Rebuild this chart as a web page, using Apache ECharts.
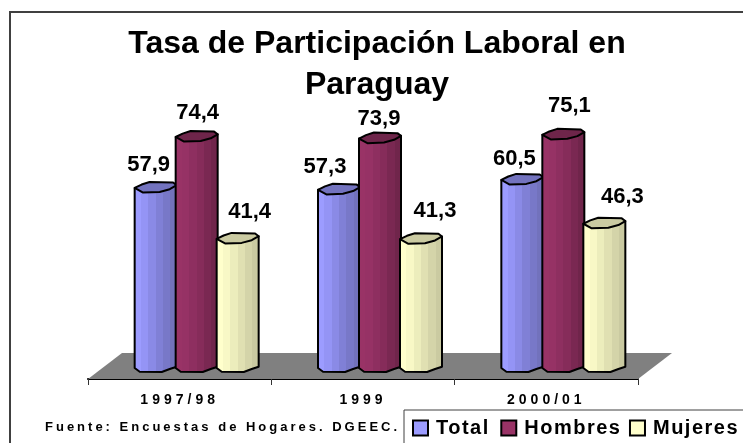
<!DOCTYPE html>
<html>
<head>
<meta charset="utf-8">
<style>
  html, body { margin: 0; padding: 0; background: #fff; overflow: hidden; }
  #chart { width: 743px; height: 443px; }
</style>
<script src="https://cdn.jsdelivr.net/npm/echarts@6/dist/echarts.min.js"></script>
</head>
<body>
<div id="chart"></div>
<script>
var categories = ['1997/98', '1999', '2000/01'];
var total = [57.9, 57.3, 60.5];
var hombres = [74.4, 73.9, 75.1];
var mujeres = [41.4, 41.3, 46.3];

var fontName = '"Liberation Sans", Arial, sans-serif';

// the original has wide tracking on the small text, echarts has no option for it
var tracking = { '14px': 4, '13px': 3, '20px': 1.5 };
var baseFillText = CanvasRenderingContext2D.prototype.fillText;
CanvasRenderingContext2D.prototype.fillText = function (text, x, y, maxWidth) {
  var m = this.font.match(/(\d+)px/);
  this.letterSpacing = (m && tracking[m[0]] ? tracking[m[0]] : 0) + 'px';
  if (maxWidth === undefined) baseFillText.call(this, text, x, y);
  else baseFillText.call(this, text, x, y, maxWidth);
};

// 3D floor depth
var depthX = 34;
var depthY = 26;
var barRx = 21;
var barGap = 41;

// uneven low-res outline of the cylinder ends: [fraction of rx, px]
var topOutline = [[-1, 0.7], [-0.67, -2.7], [-0.29, -5.3], [0.83, -4.7], [1, -2], [0.67, 2], [0.19, 4.7], [-0.6, 5.3]];
var bottomOutline = [[1, 0.7], [0.67, 3], [0.29, 6], [-0.76, 5.7], [-1, 2]];

// label nudges from the bar centre, per series and category
var labelNudge = {
  Total: [[-7, -22], [-14, -22], [-8, -20]],
  Hombres: [[1, -23], [-1, -19], [6, -28]],
  Mujeres: [[12, -26], [14, -28], [18, -26]]
};

var colors = {
  Total: { stops: ['#9c9cff', '#9494f5', '#8a8ae6', '#8080d6', '#7878c8', '#7272bc'], top: '#7373bf' },
  Hombres: { stops: ['#993366', '#963265', '#8e2f60', '#862c5a', '#7a2852', '#70254b'], top: '#6e254a' },
  Mujeres: { stops: ['#ffffcc', '#f8f8c6', '#ecedbc', '#e0e0b2', '#d4d4a9', '#cacaa1'], top: '#cbcba2' }
};

function stripes(stops) {
  var out = [];
  stops.forEach(function (c, i) {
    out.push({ offset: i / stops.length, color: c });
    out.push({ offset: (i + 1) / stops.length, color: c });
  });
  return out;
}

function barSeries(name, values, slot) {
  return {
    name: name,
    type: 'custom',
    data: values,
    itemStyle: { color: colors[name].stops[0], borderColor: '#000', borderWidth: 2 },
    renderItem: function (params, api) {
      var idx = params.dataIndex;
      var value = api.value(1);
      var topPt = api.coord([idx, value]);
      var basePt = api.coord([idx, 0]);
      var cx = topPt[0] + depthX / 2 + slot * barGap;
      var topY = topPt[1] - depthY / 2;
      var baseY = basePt[1] - depthY / 2;
      var nudge = labelNudge[name][idx];

      var body = [[cx - barRx, topY + 0.7], [cx + barRx, topY - 2]];
      bottomOutline.forEach(function (p) {
        body.push([cx + p[0] * barRx, baseY + p[1]]);
      });
      var lid = topOutline.map(function (p) {
        return [cx + p[0] * barRx, topY + p[1]];
      });

      return {
        type: 'group',
        children: [
          {
            type: 'polygon',
            shape: { points: body },
            style: {
              fill: new echarts.graphic.LinearGradient(0, 0, 1, 0, stripes(colors[name].stops)),
              stroke: '#000',
              lineWidth: 2,
              lineJoin: 'round'
            }
          },
          {
            type: 'polygon',
            shape: { points: lid },
            style: { fill: colors[name].top, stroke: '#000', lineWidth: 2, lineJoin: 'round' }
          },
          {
            type: 'text',
            x: cx + nudge[0],
            y: topY + nudge[1],
            style: {
              text: String(value.toFixed(1)).replace('.', ','),
              font: 'bold 22px ' + fontName,
              fill: '#000',
              align: 'center',
              verticalAlign: 'middle'
            }
          }
        ]
      };
    },
    encode: { x: 0, y: 1 },
    z: 3 + slot
  };
}

var chart = echarts.init(document.getElementById('chart'));
chart.setOption({
  animation: false,
  backgroundColor: '#fff',
  textStyle: { fontFamily: fontName },
  title: [{
    text: 'Tasa de Participación Laboral en\nParaguay',
    left: 372,
    top: 19,
    textAlign: 'center',
    textStyle: { fontFamily: fontName, fontSize: 32, fontWeight: 'bold', color: '#000', lineHeight: 41 }
  }, {
    text: 'Fuente: Encuestas de Hogares. DGEEC.',
    left: 45,
    top: 421,
    padding: 0,
    textStyle: { fontFamily: fontName, fontSize: 13, fontWeight: 'bold', color: '#000' }
  }],
  grid: { left: 88, right: 105, top: 132, bottom: 64 },
  xAxis: {
    type: 'category',
    data: categories,
    axisLine: { show: true, lineStyle: { color: '#000', width: 2 } },
    axisTick: { show: true, length: 6, lineStyle: { color: '#333', width: 1 } },
    axisLabel: { fontFamily: fontName, fontSize: 14, fontWeight: 'bold', color: '#000', margin: 14 }
  },
  yAxis: { type: 'value', min: 0, max: 80, show: false },
  legend: {
    left: 412,
    top: 418,
    padding: 0,
    itemWidth: 15,
    itemHeight: 15,
    itemGap: 18,
    icon: 'rect',
    textStyle: { fontFamily: fontName, fontSize: 20, fontWeight: 'bold', color: '#000', padding: [0, 0, 0, 3] },
    data: ['Total', 'Hombres', 'Mujeres']
  },
  graphic: [
    { type: 'polyline', silent: true, shape: { points: [[10, 443], [10, 12], [743, 12]] }, style: { fill: null, stroke: '#404040', lineWidth: 2 } },
    { type: 'polyline', silent: true, shape: { points: [[404, 443], [404, 410], [743, 410]] }, style: { fill: null, stroke: '#404040', lineWidth: 1 } }
  ],
  series: [
    {
      name: 'floor',
      type: 'custom',
      data: [0],
      z: 1,
      renderItem: function (params) {
        var g = params.coordSys;
        var bottom = g.y + g.height;
        return {
          type: 'polygon',
          shape: { points: [
            [g.x, bottom],
            [g.x + g.width, bottom],
            [g.x + g.width + depthX, bottom - depthY],
            [g.x + depthX, bottom - depthY]
          ] },
          style: { fill: '#808080' }
        };
      }
    },
    barSeries('Total', categories.map(function (c, i) { return [i, total[i]]; }), -1),
    barSeries('Hombres', categories.map(function (c, i) { return [i, hombres[i]]; }), 0),
    barSeries('Mujeres', categories.map(function (c, i) { return [i, mujeres[i]]; }), 1)
  ]
});
</script>
</body>
</html>
